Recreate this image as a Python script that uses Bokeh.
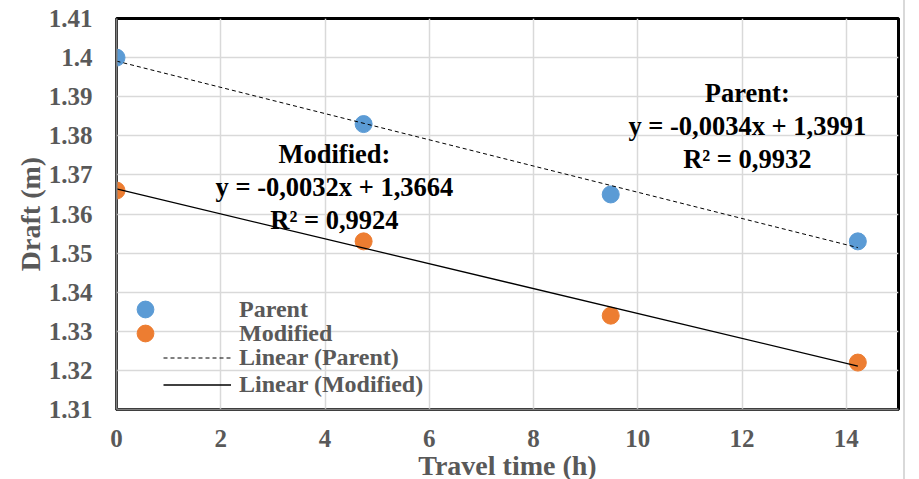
import numpy as np
from bokeh.plotting import figure
from bokeh.models import Label, Legend, LegendItem, FixedTicker, CustomJSTickFormatter, Range1d
from bokeh.embed import file_html
from bokeh.resources import INLINE

# ---- data ----
travel_time = [0, 4.74, 9.48, 14.22]
parent = [1.400, 1.383, 1.365, 1.353]
modified = [1.366, 1.353, 1.334, 1.322]
x_ticks = [0, 2, 4, 6, 8, 10, 12, 14]
y_ticks = [1.31, 1.32, 1.33, 1.34, 1.35, 1.36, 1.37, 1.38, 1.39, 1.40, 1.41]
parent_eq = "Parent:\ny = -0,0034x + 1,3991\nR\u00b2 = 0,9932"
modified_eq = "Modified:\ny = -0,0032x + 1,3664\nR\u00b2 = 0,9924"

FONT = "Liberation Serif"
GRAY = "#595959"
BLUE = "#5B9BD5"
ORANGE = "#ED7D31"

p = figure(width=903, height=470, output_backend="svg", toolbar_location=None,
           x_range=Range1d(0, 15), y_range=Range1d(1.31, 1.41),
           min_border_left=116, min_border_right=5, min_border_top=18, min_border_bottom=61,
           frame_width=782, frame_height=391,
           styles={"outline": "2px solid #d9d9d9"})

p.outline_line_color = "black"
p.outline_line_width = 3
p.background_fill_color = "white"
p.border_fill_color = "white"

# grids
p.xgrid.ticker = FixedTicker(ticks=x_ticks)
p.ygrid.ticker = FixedTicker(ticks=y_ticks)
for g in (p.xgrid, p.ygrid):
    g.grid_line_color = "#d9d9d9"
    g.grid_line_width = 1.5

# axes
p.xaxis.ticker = FixedTicker(ticks=x_ticks)
p.yaxis.ticker = FixedTicker(ticks=y_ticks)
p.yaxis.formatter = CustomJSTickFormatter(code="return parseFloat(tick.toFixed(2)).toString();")
p.xaxis.axis_label = "Travel time (h)"
p.yaxis.axis_label = "Draft (m)"
for ax in (p.xaxis[0], p.yaxis[0]):
    ax.major_tick_line_color = None
    ax.minor_tick_line_color = None
    ax.axis_line_color = "#7f7f7f"
    ax.axis_line_width = 2
    ax.major_label_text_font = FONT
    ax.major_label_text_font_style = "bold"
    ax.major_label_text_font_size = "25px"
    ax.major_label_text_color = GRAY
    ax.axis_label_text_font = FONT
    ax.axis_label_text_font_style = "bold"
    ax.axis_label_text_font_size = "28px"
    ax.axis_label_text_color = GRAY
p.xaxis.major_label_standoff = 14
p.xaxis.axis_label_standoff = 0
p.yaxis.major_label_standoff = 18
p.yaxis.axis_label_standoff = 0

# points
r_par = p.scatter(travel_time, parent, size=17, color=BLUE, line_color=BLUE)
r_mod = p.scatter(travel_time, modified, size=17, color=ORANGE, line_color=ORANGE)

# linear trend lines (least squares fit of the data)
xt = np.array([travel_time[0], travel_time[-1]])
cp = np.polyfit(travel_time, parent, 1)
cm = np.polyfit(travel_time, modified, 1)
r_lp = p.line(xt, np.polyval(cp, xt), line_color="black", line_width=1, line_dash="4 3")
r_lm = p.line(xt, np.polyval(cm, xt), line_color="black", line_width=1.3)


def style_legend(lg, glyph_w, glyph_h, standoff):
    lg.background_fill_alpha = 0
    lg.border_line_color = None
    lg.padding = 0
    lg.margin = 0
    lg.spacing = 0
    lg.glyph_width = glyph_w
    lg.glyph_height = glyph_h
    lg.label_height = 25
    lg.label_standoff = standoff
    lg.label_text_font = FONT
    lg.label_text_font_style = "bold"
    lg.label_text_font_size = "24px"
    lg.label_text_color = GRAY
    lg.label_text_baseline = "middle"


legend_par = Legend(items=[LegendItem(label="Parent", renderers=[r_par])], location=(8, 79))
style_legend(legend_par, 42, 42, 73)
legend_mod = Legend(items=[LegendItem(label="Modified", renderers=[r_mod])], location=(8, 55))
style_legend(legend_mod, 42, 42, 73)

legend_lines = Legend(items=[
    LegendItem(label="Linear (Parent)", renderers=[r_lp]),
    LegendItem(label="Linear (Modified)", renderers=[r_lm]),
], location=(47, 11))
style_legend(legend_lines, 68, 25, 8)

for lg in (legend_par, legend_mod, legend_lines):
    p.add_layout(lg, "center")

for txt, x, y in ((parent_eq, 12.1, 1.3824), (modified_eq, 4.18, 1.3670)):
    p.add_layout(Label(x=x, y=y, text=txt, text_align="center", text_baseline="middle",
                       text_font=FONT, text_font_style="bold", text_font_size="26.5px",
                       text_color="black", text_line_height=1.1))

open("out.html", "w").write(file_html(p, INLINE))
